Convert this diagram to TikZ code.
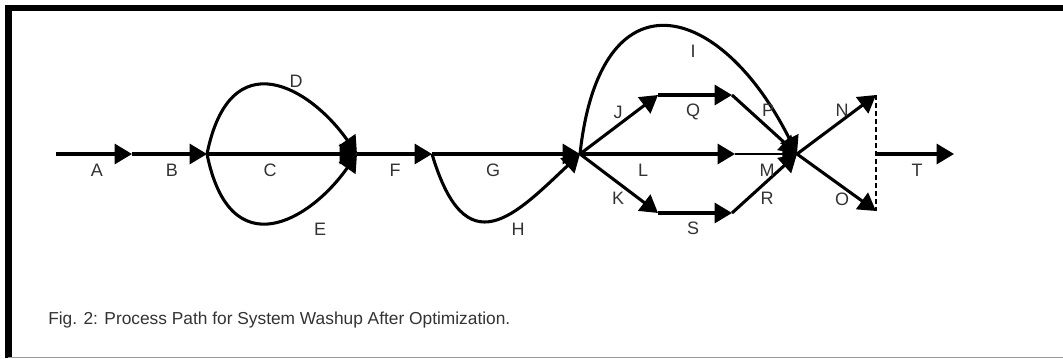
\documentclass[tikz,border=0pt]{standalone}
\usepackage{fontspec}
\setmainfont{Liberation Sans}
\usetikzlibrary{arrows.meta}
\begin{document}
\begin{tikzpicture}[x=0.75pt,y=-0.75pt,
  flow/.style={line width=2.3pt, -{Triangle[length=13pt,width=15pt]}},
  thinline/.style={line width=1.2pt},
  lbl/.style={font=\fontsize{13.5}{15}\selectfont, text=black!80, inner sep=0pt}]
\useasboundingbox (0,0) rectangle (1063,358);
\fill[white] (0,0) rectangle (1063,358);
% frame
\draw[line width=4.5pt] (5,8) -- (1063,8);
\draw[line width=5pt] (8.5,5) -- (8.5,358);
\draw[black!40, line width=0.75pt] (8,357) -- (1063,357);
% junctions
\coordinate (s0) at (56,154);
\coordinate (a1) at (132,154);
\coordinate (n1) at (207,154);
\coordinate (n2) at (357,154);
\coordinate (n3) at (432,154);
\coordinate (n4) at (580,154);
\coordinate (j1) at (658,95);
\coordinate (q1) at (732,95);
\coordinate (l1) at (735,154);
\coordinate (k1) at (658,213);
\coordinate (s1) at (732,213);
\coordinate (n5) at (797,154);
\coordinate (nn) at (876,95);
\coordinate (oo) at (876,211);
\coordinate (t0) at (876,154);
\coordinate (t1) at (954,154);
% edges
\draw[flow] (s0) -- (a1);
\draw[flow] (a1) -- (n1);
\draw[flow] (n1) -- (n2);
\draw[flow] (n1) .. controls (230,40) and (310,87) .. (n2);
\draw[flow] (n1) .. controls (230,268) and (310,221) .. (n2);
\draw[flow] (n2) -- (n3);
\draw[flow] (n3) -- (n4);
\draw[flow] (n3) .. controls (466,268) and (515,215) .. (n4);
\draw[flow] (n4) .. controls (600,-30) and (720,0) .. (n5);
\draw[flow] (n4) -- (j1);
\draw[flow] (j1) -- (q1);
\draw[flow] (q1) -- (n5);
\draw[flow] (n4) -- (l1);
\draw[thinline, -{Triangle[length=11pt,width=12pt]}] (l1) -- (n5);
\draw[flow] (n4) -- (k1);
\draw[flow] (k1) -- (s1);
\draw[flow] (s1) -- (n5);
\draw[flow] (n5) -- (nn);
\draw[flow] (n5) -- (oo);
\draw[dashed, line width=0.8pt, dash pattern=on 4pt off 2pt] (nn) -- (oo);
\draw[flow] (t0) -- (t1);
% labels
\node[lbl] (lA) at (97,170) {A};
\node[lbl] (lB) at (172,170) {B};
\node[lbl] (lC) at (270,170) {C};
\node[lbl] (lD) at (296,81) {D};
\node[lbl] (lE) at (320,229) {E};
\node[lbl] (lF) at (395,170) {F};
\node[lbl] (lG) at (493,170) {G};
\node[lbl] (lH) at (518,229) {H};
\node[lbl] (lI) at (693,51) {I};
\node[lbl] (lJ) at (618,112) {J};
\node[lbl] (lQ) at (693,112) {Q};
\node[lbl] (lP) at (768,110) {P};
\node[lbl] (lL) at (643,170) {L};
\node[lbl] (lM) at (767,170) {M};
\node[lbl] (lK) at (618,198) {K};
\node[lbl] (lS) at (693,228) {S};
\node[lbl] (lR) at (767,198) {R};
\node[lbl] (lN) at (842,110) {N};
\node[lbl] (lO) at (842,199) {O};
\node[lbl] (lT) at (917,170) {T};
\node[lbl, font=\fontsize{13}{15}\selectfont, anchor=base west] (cap) at (48,324) {Fig. 2: Process Path for System Washup After Optimization.};
\end{tikzpicture}
\end{document}
